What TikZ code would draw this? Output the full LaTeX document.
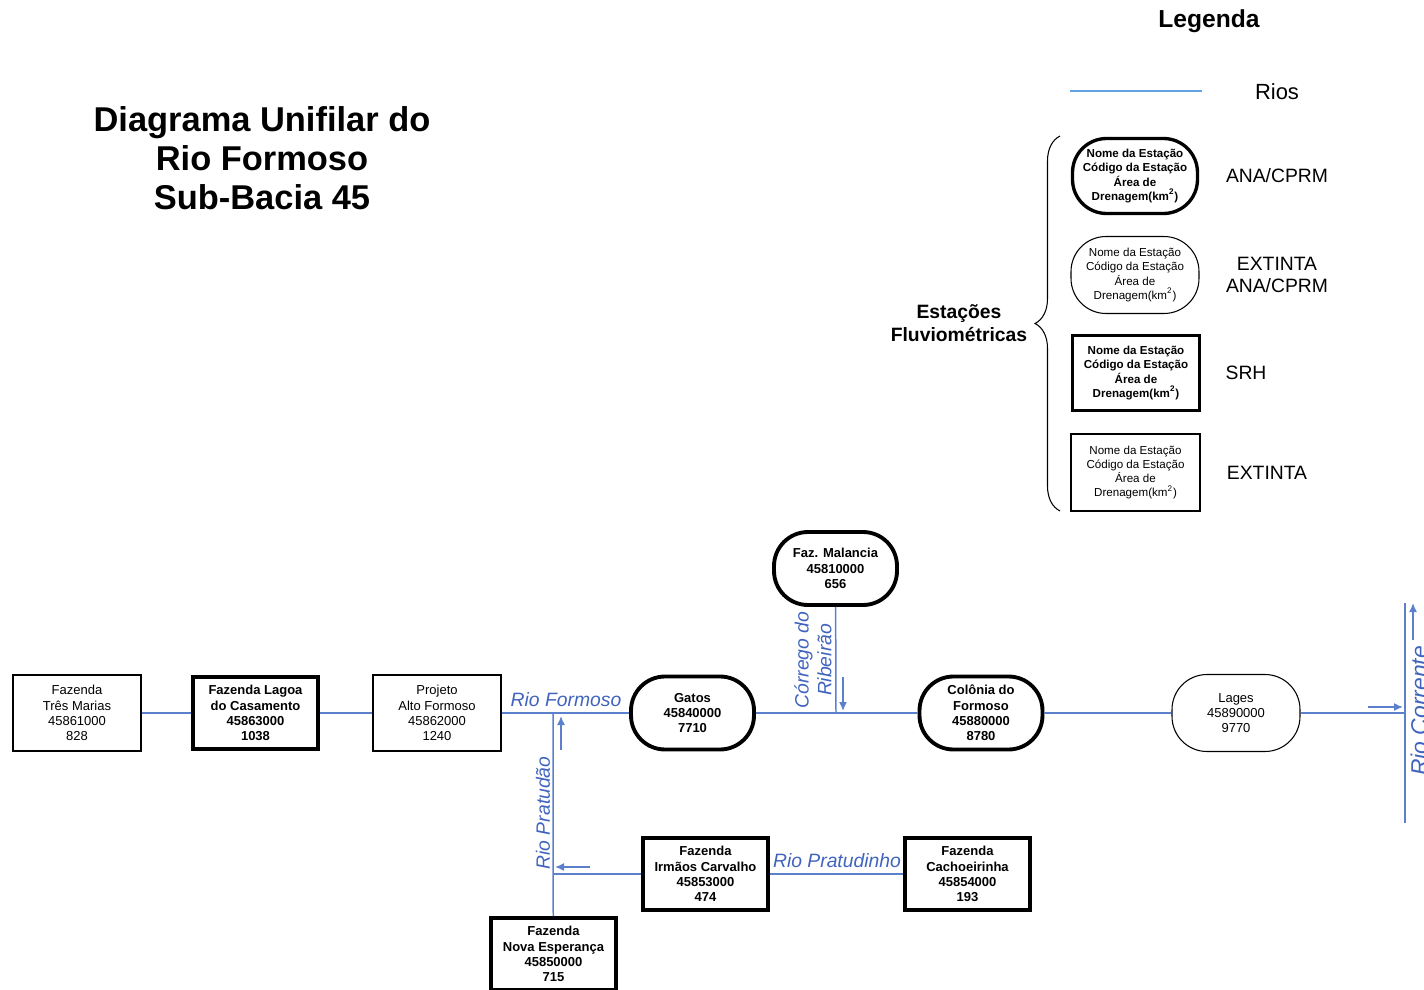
\documentclass[tikz,border=0pt]{standalone}
\usepackage{fontspec}
\setmainfont{Liberation Sans}
\usetikzlibrary{arrows.meta,decorations.pathreplacing}
\definecolor{riverblue}{RGB}{92,128,204}
\definecolor{labelblue}{RGB}{64,100,190}
\definecolor{legendblue}{RGB}{96,165,225}

\begin{document}
\begin{tikzpicture}[x=0.02cm,y=-0.02cm]
\useasboundingbox (0,0) rectangle (1424,990);

\tikzstyle{every node}=[align=center,inner sep=0pt];
\tikzstyle{srh}=[draw,line width=2.2pt,minimum width=2.5cm,minimum height=1.44cm,font=\fontsize{7.4}{8.7}\selectfont\bfseries];
\tikzstyle{srhold}=[draw,line width=0.6pt,minimum width=2.56cm,minimum height=1.52cm,font=\fontsize{7.4}{8.7}\selectfont];
\tikzstyle{ana}=[srh,rounded corners=0.68cm,minimum width=2.46cm,minimum height=1.46cm];
\tikzstyle{anaold}=[srhold,rounded corners=0.7cm,minimum height=1.54cm];
\tikzstyle{rio}=[draw=riverblue,line width=0.85pt];
\tikzstyle{flow}=[draw=riverblue,line width=0.85pt,-{Latex[length=1.8mm,width=1.6mm]}];
\tikzstyle{rioname}=[text=labelblue,font=\fontsize{11}{13}\selectfont\itshape];

% Title
\node[font=\fontsize{19.6}{22.2}\selectfont\bfseries] (title) at (262,158)
  {Diagrama Unifilar do\\Rio Formoso\\Sub-Bacia 45};

% Stations along the Rio Formoso
\node[srhold] (tresmarias) at (77,713) {Fazenda\\Três Marias\\45861000\\828};
\node[srh] (lagoa) at (255.5,713) {Fazenda Lagoa\\do Casamento\\45863000\\1038};
\node[srhold] (altoformoso) at (437,713) {Projeto\\Alto Formoso\\45862000\\1240};
\node[ana] (gatos) at (692.5,713) {Gatos\\45840000\\7710};
\node[ana] (malancia) at (835.5,568.5) {Faz. Malancia\\45810000\\656};
\node[ana] (colonia) at (981,713) {Colônia do\\Formoso\\45880000\\8780};
\node[anaold] (lages) at (1236,713) {Lages\\45890000\\9770};

% Stations on the tributaries
\node[srh] (irmaos) at (705.5,874) {Fazenda\\Irmãos Carvalho\\45853000\\474};
\node[srh] (cachoeirinha) at (967.5,874) {Fazenda\\Cachoeirinha\\45854000\\193};
\node[srh] (novaesperanca) at (553.5,954) {Fazenda\\Nova Esperança\\45850000\\715};

% Confluences
\coordinate (pratudao) at (553,713);
\coordinate (pratudinho) at (553,874);
\coordinate (ribeirao) at (836,713);
\coordinate (corrente) at (1405,713);
\coordinate (correntetop) at (1405,603);
\coordinate (correntebot) at (1405,823);

% Rivers
\draw[rio] (tresmarias) -- (lagoa) -- (altoformoso) -- (gatos) -- (colonia) -- (lages) -- (corrente);
\draw[rio] (malancia) -- (ribeirao);
\draw[rio] (novaesperanca) -- (pratudinho) -- (pratudao);
\draw[rio] (cachoeirinha) -- (irmaos) -- (pratudinho);
\draw[rio] (correntebot) -- (correntetop);

% Flow directions
\coordinate (f1a) at (843,677);  \coordinate (f1b) at (843,711);
\coordinate (f2a) at (561,750);  \coordinate (f2b) at (561,716);
\coordinate (f3a) at (590,867);  \coordinate (f3b) at (555,867);
\coordinate (f4a) at (1368,707); \coordinate (f4b) at (1403,707);
\coordinate (f5a) at (1413,640); \coordinate (f5b) at (1413,603);
\foreach \f in {1,...,5}
  \draw[flow] (f\f a) -- (f\f b);

% River names
\node[rioname] (nformoso) at (566,700) {Rio Formoso};
\node[rioname,rotate=90] (nribeirao) at (813,660) {Córrego do\\Ribeirão};
\node[rioname,rotate=90] (npratudao) at (543,813) {Rio Pratudão};
\node[rioname] (npratudinho) at (837,861) {Rio Pratudinho};
\node[rioname,rotate=90,anchor=west,font=\fontsize{13}{15}\selectfont\itshape] (ncorrente) at (1419,776) {Rio Corrente};

% Legend
\node[font=\fontsize{14}{16}\selectfont\bfseries] (legenda) at (1209,21) {Legenda};
\coordinate (riosa) at (1070,91);
\coordinate (riosb) at (1202,91);
\draw[draw=legendblue,line width=0.7pt] (riosa) -- (riosb);
\node[font=\fontsize{12.5}{15}\selectfont] (rios) at (1277,92) {Rios};

\tikzstyle{legtext}=[font=\fontsize{6.6}{8}\selectfont];
\tikzstyle{legbold}=[font=\fontsize{6.6}{8}\selectfont\bfseries,line width=1.9pt];
\node[ana,legbold,minimum width=2.5cm,minimum height=1.5cm] (legana) at (1135,176)
  {Nome da Estação\\Código da Estação\\Área de\\Drenagem(km\textsuperscript{2})};
\node[anaold,legtext] (leganaold) at (1135,275)
  {Nome da Estação\\Código da Estação\\Área de\\Drenagem(km\textsuperscript{2})};
\node[srh,legbold,minimum width=2.54cm,minimum height=1.5cm] (legsrh) at (1136,373)
  {Nome da Estação\\Código da Estação\\Área de\\Drenagem(km\textsuperscript{2})};
\node[srhold,legtext,minimum width=2.58cm,minimum height=1.54cm] (legsrhold) at (1135.5,472.5)
  {Nome da Estação\\Código da Estação\\Área de\\Drenagem(km\textsuperscript{2})};

\tikzstyle{legname}=[font=\fontsize{11}{13}\selectfont];
\node[legname] (lana) at (1277,176) {ANA/CPRM};
\node[legname] (lanaold) at (1277,275) {EXTINTA\\ANA/CPRM};
\node[legname] (lsrh) at (1246,373) {SRH};
\node[legname] (lsrhold) at (1267,473) {EXTINTA};

% Brace for the station types
\coordinate (bracebot) at (1060,511);
\coordinate (bracetop) at (1060,136);
\draw[line width=0.6pt,decorate,decoration={brace,amplitude=0.5cm}] (bracebot) -- (bracetop);
\node[font=\fontsize{11}{13}\selectfont\bfseries] (estacoes) at (959,323) {Estações\\Fluviométricas};

\end{tikzpicture}
\end{document}
